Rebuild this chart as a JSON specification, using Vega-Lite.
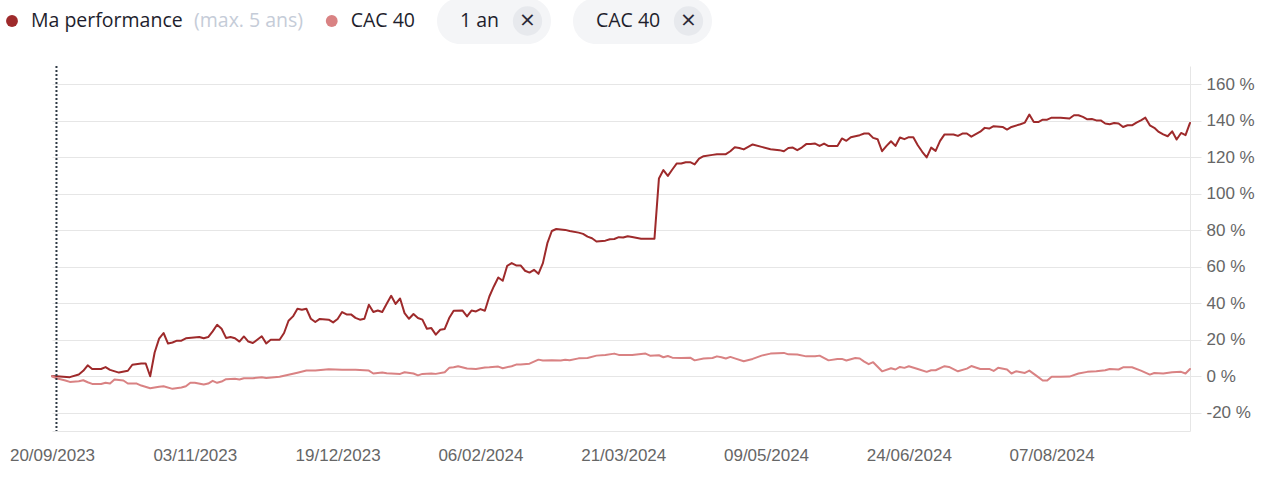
{
"$schema":"https://vega.github.io/schema/vega-lite/v6.json",
"width":1138,"height":365,
"autosize":{"type":"none"},
"padding":{"left":52,"top":66,"right":94,"bottom":46},
"background":"white",
"config":{"view":{"stroke":null},"legend":{"titleFontWeight":"normal"}},
"datasets":{
"repere":[{"seance":1,"libelle":"début de période"}],
"perf":[
{"seance":0,"serie":"Ma performance","perf":0},{"seance":1,"serie":"Ma performance","perf":0},{"seance":4,"serie":"Ma performance","perf":-0.5},{"seance":6,"serie":"Ma performance","perf":1},{"seance":7,"serie":"Ma performance","perf":3},{"seance":8,"serie":"Ma performance","perf":6},{"seance":9,"serie":"Ma performance","perf":4},{"seance":11,"serie":"Ma performance","perf":4},{"seance":12,"serie":"Ma performance","perf":5},{"seance":13,"serie":"Ma performance","perf":3.5},{"seance":15,"serie":"Ma performance","perf":2},{"seance":17,"serie":"Ma performance","perf":3},{"seance":18,"serie":"Ma performance","perf":6.3},{"seance":20,"serie":"Ma performance","perf":7},{"seance":21,"serie":"Ma performance","perf":7},{"seance":22,"serie":"Ma performance","perf":0},{"seance":23,"serie":"Ma performance","perf":13},{"seance":24,"serie":"Ma performance","perf":20.6},{"seance":25,"serie":"Ma performance","perf":23.7},{"seance":26,"serie":"Ma performance","perf":17.9},{"seance":27,"serie":"Ma performance","perf":18.5},{"seance":28,"serie":"Ma performance","perf":19.5},{"seance":29,"serie":"Ma performance","perf":19.5},{"seance":30,"serie":"Ma performance","perf":20.8},{"seance":33,"serie":"Ma performance","perf":21.5},{"seance":34,"serie":"Ma performance","perf":20.8},{"seance":35,"serie":"Ma performance","perf":21.5},{"seance":36,"serie":"Ma performance","perf":24.6},{"seance":37,"serie":"Ma performance","perf":28.2},{"seance":38,"serie":"Ma performance","perf":26},{"seance":39,"serie":"Ma performance","perf":21},{"seance":40,"serie":"Ma performance","perf":21.5},{"seance":41,"serie":"Ma performance","perf":20.8},{"seance":42,"serie":"Ma performance","perf":19},{"seance":43,"serie":"Ma performance","perf":21.8},{"seance":44,"serie":"Ma performance","perf":19},{"seance":45,"serie":"Ma performance","perf":18.2},{"seance":47,"serie":"Ma performance","perf":21.9},{"seance":48,"serie":"Ma performance","perf":18},{"seance":49,"serie":"Ma performance","perf":20},{"seance":51,"serie":"Ma performance","perf":20},{"seance":52,"serie":"Ma performance","perf":23.7},{"seance":53,"serie":"Ma performance","perf":30.4},{"seance":54,"serie":"Ma performance","perf":32.8},{"seance":55,"serie":"Ma performance","perf":37},{"seance":56,"serie":"Ma performance","perf":36.4},{"seance":57,"serie":"Ma performance","perf":37},{"seance":58,"serie":"Ma performance","perf":31.5},{"seance":59,"serie":"Ma performance","perf":29.7},{"seance":60,"serie":"Ma performance","perf":31.4},{"seance":62,"serie":"Ma performance","perf":31},{"seance":63,"serie":"Ma performance","perf":29.5},{"seance":64,"serie":"Ma performance","perf":31.4},{"seance":65,"serie":"Ma performance","perf":35.2},{"seance":66,"serie":"Ma performance","perf":33.9},{"seance":67,"serie":"Ma performance","perf":33.9},{"seance":68,"serie":"Ma performance","perf":32},{"seance":69,"serie":"Ma performance","perf":31},{"seance":70,"serie":"Ma performance","perf":31.5},{"seance":71,"serie":"Ma performance","perf":39.2},{"seance":72,"serie":"Ma performance","perf":35.2},{"seance":73,"serie":"Ma performance","perf":36},{"seance":74,"serie":"Ma performance","perf":35.2},{"seance":75,"serie":"Ma performance","perf":39.7},{"seance":76,"serie":"Ma performance","perf":44.1},{"seance":77,"serie":"Ma performance","perf":39.6},{"seance":78,"serie":"Ma performance","perf":42.6},{"seance":79,"serie":"Ma performance","perf":34.6},{"seance":80,"serie":"Ma performance","perf":31.5},{"seance":81,"serie":"Ma performance","perf":34.1},{"seance":82,"serie":"Ma performance","perf":31.9},{"seance":83,"serie":"Ma performance","perf":31},{"seance":84,"serie":"Ma performance","perf":26},{"seance":85,"serie":"Ma performance","perf":26.4},{"seance":86,"serie":"Ma performance","perf":22.8},{"seance":87,"serie":"Ma performance","perf":25.5},{"seance":88,"serie":"Ma performance","perf":25.9},{"seance":89,"serie":"Ma performance","perf":31.9},{"seance":90,"serie":"Ma performance","perf":35.9},{"seance":92,"serie":"Ma performance","perf":36},{"seance":93,"serie":"Ma performance","perf":32.8},{"seance":94,"serie":"Ma performance","perf":36},{"seance":95,"serie":"Ma performance","perf":35.5},{"seance":96,"serie":"Ma performance","perf":36.8},{"seance":97,"serie":"Ma performance","perf":35.9},{"seance":98,"serie":"Ma performance","perf":43.7},{"seance":99,"serie":"Ma performance","perf":49.2},{"seance":100,"serie":"Ma performance","perf":54.1},{"seance":101,"serie":"Ma performance","perf":52.3},{"seance":102,"serie":"Ma performance","perf":60.5},{"seance":103,"serie":"Ma performance","perf":62},{"seance":104,"serie":"Ma performance","perf":60.7},{"seance":105,"serie":"Ma performance","perf":60.7},{"seance":106,"serie":"Ma performance","perf":57.8},{"seance":107,"serie":"Ma performance","perf":56.8},{"seance":108,"serie":"Ma performance","perf":58.3},{"seance":109,"serie":"Ma performance","perf":56.1},{"seance":110,"serie":"Ma performance","perf":62},{"seance":111,"serie":"Ma performance","perf":72.9},{"seance":112,"serie":"Ma performance","perf":79.6},{"seance":113,"serie":"Ma performance","perf":80.7},{"seance":115,"serie":"Ma performance","perf":80.2},{"seance":116,"serie":"Ma performance","perf":79.6},{"seance":118,"serie":"Ma performance","perf":78.7},{"seance":119,"serie":"Ma performance","perf":78},{"seance":120,"serie":"Ma performance","perf":76.5},{"seance":121,"serie":"Ma performance","perf":75.6},{"seance":122,"serie":"Ma performance","perf":73.8},{"seance":124,"serie":"Ma performance","perf":74.3},{"seance":125,"serie":"Ma performance","perf":75.1},{"seance":126,"serie":"Ma performance","perf":75.2},{"seance":127,"serie":"Ma performance","perf":76.2},{"seance":128,"serie":"Ma performance","perf":76},{"seance":129,"serie":"Ma performance","perf":76.7},{"seance":130,"serie":"Ma performance","perf":76.3},{"seance":132,"serie":"Ma performance","perf":75.4},{"seance":133,"serie":"Ma performance","perf":75.4},{"seance":135,"serie":"Ma performance","perf":75.4},{"seance":136,"serie":"Ma performance","perf":108.4},{"seance":137,"serie":"Ma performance","perf":113},{"seance":138,"serie":"Ma performance","perf":109.8},{"seance":139,"serie":"Ma performance","perf":113.3},{"seance":140,"serie":"Ma performance","perf":116.6},{"seance":141,"serie":"Ma performance","perf":116.6},{"seance":142,"serie":"Ma performance","perf":117.3},{"seance":143,"serie":"Ma performance","perf":117.3},{"seance":144,"serie":"Ma performance","perf":116.1},{"seance":145,"serie":"Ma performance","perf":119.3},{"seance":146,"serie":"Ma performance","perf":120.6},{"seance":148,"serie":"Ma performance","perf":121.3},{"seance":149,"serie":"Ma performance","perf":121.7},{"seance":151,"serie":"Ma performance","perf":121.7},{"seance":152,"serie":"Ma performance","perf":123.3},{"seance":153,"serie":"Ma performance","perf":125.5},{"seance":154,"serie":"Ma performance","perf":125.1},{"seance":155,"serie":"Ma performance","perf":124.3},{"seance":157,"serie":"Ma performance","perf":127},{"seance":159,"serie":"Ma performance","perf":125.7},{"seance":161,"serie":"Ma performance","perf":124.4},{"seance":163,"serie":"Ma performance","perf":123.9},{"seance":164,"serie":"Ma performance","perf":123.3},{"seance":165,"serie":"Ma performance","perf":125.1},{"seance":166,"serie":"Ma performance","perf":125.3},{"seance":167,"serie":"Ma performance","perf":123.9},{"seance":168,"serie":"Ma performance","perf":125.3},{"seance":169,"serie":"Ma performance","perf":127.2},{"seance":170,"serie":"Ma performance","perf":127.2},{"seance":171,"serie":"Ma performance","perf":127.5},{"seance":172,"serie":"Ma performance","perf":126.2},{"seance":173,"serie":"Ma performance","perf":127.5},{"seance":174,"serie":"Ma performance","perf":126.1},{"seance":176,"serie":"Ma performance","perf":126.1},{"seance":177,"serie":"Ma performance","perf":130.3},{"seance":178,"serie":"Ma performance","perf":129},{"seance":179,"serie":"Ma performance","perf":131},{"seance":181,"serie":"Ma performance","perf":132.1},{"seance":182,"serie":"Ma performance","perf":133},{"seance":183,"serie":"Ma performance","perf":133},{"seance":184,"serie":"Ma performance","perf":130.6},{"seance":185,"serie":"Ma performance","perf":129.9},{"seance":186,"serie":"Ma performance","perf":123.3},{"seance":187,"serie":"Ma performance","perf":126.2},{"seance":188,"serie":"Ma performance","perf":128.8},{"seance":189,"serie":"Ma performance","perf":126.2},{"seance":190,"serie":"Ma performance","perf":130.8},{"seance":191,"serie":"Ma performance","perf":129.9},{"seance":192,"serie":"Ma performance","perf":131},{"seance":193,"serie":"Ma performance","perf":131},{"seance":194,"serie":"Ma performance","perf":126.6},{"seance":195,"serie":"Ma performance","perf":123},{"seance":196,"serie":"Ma performance","perf":119.9},{"seance":197,"serie":"Ma performance","perf":125.3},{"seance":198,"serie":"Ma performance","perf":123.5},{"seance":199,"serie":"Ma performance","perf":129},{"seance":200,"serie":"Ma performance","perf":132.5},{"seance":202,"serie":"Ma performance","perf":132.5},{"seance":203,"serie":"Ma performance","perf":131.7},{"seance":204,"serie":"Ma performance","perf":133},{"seance":205,"serie":"Ma performance","perf":133},{"seance":206,"serie":"Ma performance","perf":131.3},{"seance":208,"serie":"Ma performance","perf":134},{"seance":209,"serie":"Ma performance","perf":136.1},{"seance":210,"serie":"Ma performance","perf":135.7},{"seance":211,"serie":"Ma performance","perf":137},{"seance":213,"serie":"Ma performance","perf":136.6},{"seance":214,"serie":"Ma performance","perf":135.2},{"seance":215,"serie":"Ma performance","perf":136.6},{"seance":217,"serie":"Ma performance","perf":138.1},{"seance":218,"serie":"Ma performance","perf":139},{"seance":219,"serie":"Ma performance","perf":143.4},{"seance":220,"serie":"Ma performance","perf":139.3},{"seance":221,"serie":"Ma performance","perf":139.3},{"seance":222,"serie":"Ma performance","perf":140.6},{"seance":223,"serie":"Ma performance","perf":140.6},{"seance":224,"serie":"Ma performance","perf":141.7},{"seance":226,"serie":"Ma performance","perf":141.7},{"seance":228,"serie":"Ma performance","perf":141.2},{"seance":229,"serie":"Ma performance","perf":143},{"seance":230,"serie":"Ma performance","perf":143},{"seance":231,"serie":"Ma performance","perf":142.1},{"seance":232,"serie":"Ma performance","perf":140.8},{"seance":233,"serie":"Ma performance","perf":141},{"seance":234,"serie":"Ma performance","perf":140.2},{"seance":235,"serie":"Ma performance","perf":140.2},{"seance":236,"serie":"Ma performance","perf":138.5},{"seance":237,"serie":"Ma performance","perf":138.1},{"seance":238,"serie":"Ma performance","perf":138.8},{"seance":239,"serie":"Ma performance","perf":138.5},{"seance":240,"serie":"Ma performance","perf":136.6},{"seance":241,"serie":"Ma performance","perf":137.5},{"seance":242,"serie":"Ma performance","perf":137.5},{"seance":243,"serie":"Ma performance","perf":139},{"seance":244,"serie":"Ma performance","perf":140.2},{"seance":245,"serie":"Ma performance","perf":141.7},{"seance":246,"serie":"Ma performance","perf":137.5},{"seance":247,"serie":"Ma performance","perf":136.1},{"seance":248,"serie":"Ma performance","perf":133.9},{"seance":249,"serie":"Ma performance","perf":132.5},{"seance":250,"serie":"Ma performance","perf":131.5},{"seance":251,"serie":"Ma performance","perf":134.2},{"seance":252,"serie":"Ma performance","perf":129.7},{"seance":253,"serie":"Ma performance","perf":133.3},{"seance":254,"serie":"Ma performance","perf":132.1},{"seance":255,"serie":"Ma performance","perf":138.8},
{"seance":0,"serie":"CAC 40","perf":0},{"seance":1,"serie":"CAC 40","perf":-1.1},{"seance":3,"serie":"CAC 40","perf":-2.3},{"seance":4,"serie":"CAC 40","perf":-3.1},{"seance":6,"serie":"CAC 40","perf":-2.7},{"seance":7,"serie":"CAC 40","perf":-2.2},{"seance":8,"serie":"CAC 40","perf":-3.3},{"seance":9,"serie":"CAC 40","perf":-4.2},{"seance":11,"serie":"CAC 40","perf":-4.2},{"seance":12,"serie":"CAC 40","perf":-3.6},{"seance":13,"serie":"CAC 40","perf":-4},{"seance":14,"serie":"CAC 40","perf":-1.8},{"seance":16,"serie":"CAC 40","perf":-2.3},{"seance":17,"serie":"CAC 40","perf":-4},{"seance":19,"serie":"CAC 40","perf":-4},{"seance":20,"serie":"CAC 40","perf":-5.1},{"seance":22,"serie":"CAC 40","perf":-6.6},{"seance":24,"serie":"CAC 40","perf":-5.8},{"seance":25,"serie":"CAC 40","perf":-5.5},{"seance":27,"serie":"CAC 40","perf":-6.9},{"seance":29,"serie":"CAC 40","perf":-6.2},{"seance":30,"serie":"CAC 40","perf":-5.5},{"seance":31,"serie":"CAC 40","perf":-3.6},{"seance":32,"serie":"CAC 40","perf":-3.6},{"seance":34,"serie":"CAC 40","perf":-4.5},{"seance":35,"serie":"CAC 40","perf":-4},{"seance":36,"serie":"CAC 40","perf":-2.5},{"seance":37,"serie":"CAC 40","perf":-3.6},{"seance":38,"serie":"CAC 40","perf":-2.9},{"seance":39,"serie":"CAC 40","perf":-1.6},{"seance":41,"serie":"CAC 40","perf":-1.4},{"seance":42,"serie":"CAC 40","perf":-1.8},{"seance":43,"serie":"CAC 40","perf":-1.1},{"seance":45,"serie":"CAC 40","perf":-1.1},{"seance":47,"serie":"CAC 40","perf":-0.5},{"seance":48,"serie":"CAC 40","perf":-0.9},{"seance":51,"serie":"CAC 40","perf":-0.3},{"seance":53,"serie":"CAC 40","perf":0.8},{"seance":55,"serie":"CAC 40","perf":1.9},{"seance":57,"serie":"CAC 40","perf":3.1},{"seance":59,"serie":"CAC 40","perf":3.1},{"seance":62,"serie":"CAC 40","perf":3.8},{"seance":65,"serie":"CAC 40","perf":3.5},{"seance":68,"serie":"CAC 40","perf":3.5},{"seance":71,"serie":"CAC 40","perf":3.1},{"seance":72,"serie":"CAC 40","perf":1.5},{"seance":74,"serie":"CAC 40","perf":2},{"seance":75,"serie":"CAC 40","perf":1.6},{"seance":78,"serie":"CAC 40","perf":1.3},{"seance":79,"serie":"CAC 40","perf":2.2},{"seance":81,"serie":"CAC 40","perf":1.5},{"seance":82,"serie":"CAC 40","perf":0.5},{"seance":83,"serie":"CAC 40","perf":1.3},{"seance":85,"serie":"CAC 40","perf":1.5},{"seance":86,"serie":"CAC 40","perf":1.3},{"seance":88,"serie":"CAC 40","perf":2.2},{"seance":89,"serie":"CAC 40","perf":4.6},{"seance":90,"serie":"CAC 40","perf":4.9},{"seance":91,"serie":"CAC 40","perf":5.5},{"seance":93,"serie":"CAC 40","perf":4.2},{"seance":95,"serie":"CAC 40","perf":4},{"seance":97,"serie":"CAC 40","perf":4.8},{"seance":98,"serie":"CAC 40","perf":4.9},{"seance":100,"serie":"CAC 40","perf":5.3},{"seance":101,"serie":"CAC 40","perf":4.4},{"seance":103,"serie":"CAC 40","perf":5.5},{"seance":104,"serie":"CAC 40","perf":6.4},{"seance":105,"serie":"CAC 40","perf":6.4},{"seance":107,"serie":"CAC 40","perf":6.9},{"seance":109,"serie":"CAC 40","perf":9.1},{"seance":110,"serie":"CAC 40","perf":8.6},{"seance":112,"serie":"CAC 40","perf":8.7},{"seance":114,"serie":"CAC 40","perf":8.6},{"seance":115,"serie":"CAC 40","perf":9},{"seance":116,"serie":"CAC 40","perf":8.8},{"seance":118,"serie":"CAC 40","perf":9.8},{"seance":120,"serie":"CAC 40","perf":10},{"seance":122,"serie":"CAC 40","perf":11.3},{"seance":124,"serie":"CAC 40","perf":11.7},{"seance":126,"serie":"CAC 40","perf":12.4},{"seance":127,"serie":"CAC 40","perf":11.7},{"seance":130,"serie":"CAC 40","perf":11.7},{"seance":132,"serie":"CAC 40","perf":12.2},{"seance":133,"serie":"CAC 40","perf":12.4},{"seance":134,"serie":"CAC 40","perf":11.3},{"seance":136,"serie":"CAC 40","perf":11.5},{"seance":137,"serie":"CAC 40","perf":10.4},{"seance":138,"serie":"CAC 40","perf":11.1},{"seance":139,"serie":"CAC 40","perf":10.2},{"seance":141,"serie":"CAC 40","perf":10},{"seance":143,"serie":"CAC 40","perf":10.2},{"seance":144,"serie":"CAC 40","perf":8.7},{"seance":146,"serie":"CAC 40","perf":9.7},{"seance":148,"serie":"CAC 40","perf":10},{"seance":149,"serie":"CAC 40","perf":10.9},{"seance":150,"serie":"CAC 40","perf":10.4},{"seance":151,"serie":"CAC 40","perf":9.7},{"seance":152,"serie":"CAC 40","perf":10.6},{"seance":153,"serie":"CAC 40","perf":9.8},{"seance":155,"serie":"CAC 40","perf":8.2},{"seance":157,"serie":"CAC 40","perf":9.5},{"seance":159,"serie":"CAC 40","perf":11.3},{"seance":161,"serie":"CAC 40","perf":12.4},{"seance":164,"serie":"CAC 40","perf":12.8},{"seance":165,"serie":"CAC 40","perf":12},{"seance":167,"serie":"CAC 40","perf":11.9},{"seance":169,"serie":"CAC 40","perf":10.9},{"seance":171,"serie":"CAC 40","perf":10.9},{"seance":172,"serie":"CAC 40","perf":11.3},{"seance":174,"serie":"CAC 40","perf":8.7},{"seance":176,"serie":"CAC 40","perf":9.5},{"seance":177,"serie":"CAC 40","perf":9.5},{"seance":178,"serie":"CAC 40","perf":8.6},{"seance":180,"serie":"CAC 40","perf":10},{"seance":181,"serie":"CAC 40","perf":9.7},{"seance":182,"serie":"CAC 40","perf":8},{"seance":183,"serie":"CAC 40","perf":6.6},{"seance":184,"serie":"CAC 40","perf":7.7},{"seance":186,"serie":"CAC 40","perf":2.7},{"seance":188,"serie":"CAC 40","perf":4.4},{"seance":189,"serie":"CAC 40","perf":3.7},{"seance":190,"serie":"CAC 40","perf":5.1},{"seance":191,"serie":"CAC 40","perf":4.6},{"seance":192,"serie":"CAC 40","perf":5.5},{"seance":194,"serie":"CAC 40","perf":4},{"seance":196,"serie":"CAC 40","perf":2.4},{"seance":197,"serie":"CAC 40","perf":3.3},{"seance":198,"serie":"CAC 40","perf":3.3},{"seance":200,"serie":"CAC 40","perf":5.5},{"seance":201,"serie":"CAC 40","perf":5.1},{"seance":203,"serie":"CAC 40","perf":2.7},{"seance":205,"serie":"CAC 40","perf":4.2},{"seance":206,"serie":"CAC 40","perf":5.6},{"seance":208,"serie":"CAC 40","perf":4},{"seance":210,"serie":"CAC 40","perf":4},{"seance":211,"serie":"CAC 40","perf":2.9},{"seance":212,"serie":"CAC 40","perf":4.6},{"seance":214,"serie":"CAC 40","perf":3.7},{"seance":215,"serie":"CAC 40","perf":1.5},{"seance":216,"serie":"CAC 40","perf":2.7},{"seance":218,"serie":"CAC 40","perf":1.8},{"seance":219,"serie":"CAC 40","perf":3.1},{"seance":221,"serie":"CAC 40","perf":-0.5},{"seance":222,"serie":"CAC 40","perf":-2.3},{"seance":223,"serie":"CAC 40","perf":-2.3},{"seance":224,"serie":"CAC 40","perf":-0.3},{"seance":226,"serie":"CAC 40","perf":-0.3},{"seance":228,"serie":"CAC 40","perf":-0.2},{"seance":230,"serie":"CAC 40","perf":1.5},{"seance":232,"serie":"CAC 40","perf":2.4},{"seance":234,"serie":"CAC 40","perf":2.7},{"seance":236,"serie":"CAC 40","perf":3.3},{"seance":237,"serie":"CAC 40","perf":4},{"seance":239,"serie":"CAC 40","perf":3.7},{"seance":240,"serie":"CAC 40","perf":4.9},{"seance":242,"serie":"CAC 40","perf":4.9},{"seance":244,"serie":"CAC 40","perf":3.1},{"seance":246,"serie":"CAC 40","perf":0.9},{"seance":247,"serie":"CAC 40","perf":1.8},{"seance":249,"serie":"CAC 40","perf":1.5},{"seance":251,"serie":"CAC 40","perf":2.2},{"seance":253,"serie":"CAC 40","perf":2.4},{"seance":254,"serie":"CAC 40","perf":1.5},{"seance":255,"serie":"CAC 40","perf":4}
]},
"data":{"name":"perf"},
"encoding":{
 "x":{"field":"seance","type":"quantitative","scale":{"domain":[0,255],"nice":false,"zero":false},
  "axis":{"title":null,"values":[0,32,64,96,128,160,192,224],"labelExpr":"['20/09/2023','03/11/2023','19/12/2023','06/02/2024','21/03/2024','09/05/2024','24/06/2024','07/08/2024'][round(datum.value / 32)]","grid":false,"ticks":false,"domain":true,"domainColor":"#e6e6e6","domainWidth":1,"labelFont":"Liberation Sans","labelFontSize":17,"labelColor":"#666666","labelPadding":16,"labelFlush":false,"labelOverlap":false}}
},
"layer":[
{"mark":{"type":"line","strokeWidth":2,"strokeJoin":"round","strokeCap":"round"},
 "encoding":{
  "y":{"field":"perf","type":"quantitative","scale":{"domain":[-30,170],"nice":false,"zero":false},
   "axis":{"orient":"right","title":null,"values":[-20,0,20,40,60,80,100,120,140,160],"labelExpr":"datum.value + ' %'","grid":true,"gridColor":"#e6e6e6","gridWidth":1,"ticks":true,"tickColor":"#e6e6e6","tickSize":11,"domain":true,"domainColor":"#e6e6e6","labelFont":"Liberation Sans","labelFontSize":17,"labelColor":"#666666","labelPadding":5,"labelFlush":false}},
  "color":{"field":"serie","type":"nominal","scale":{"range":["#d98283","#9e2a2b"]},"legend":null}
 }},
{"transform":[{"filter":"false"}],
 "mark":{"type":"point","filled":true,"opacity":1},
 "encoding":{
  "fill":{"field":"serie","type":"nominal","scale":{"domain":["Ma performance"],"range":["#9e2a2b"]},
   "legend":{"orient":"none","legendX":-49.75,"legendY":-54.75,"title":null,"symbolType":"circle","symbolSize":140,"symbolStrokeWidth":0,"symbolOpacity":1,"labelFont":"Open Sans","labelFontSize":19.5,"labelColor":"#1e1e2d","labelOffset":9.25,"labelLimit":400,"padding":0}}
 }},
{"transform":[{"filter":"false"}],
 "mark":{"type":"point","filled":true,"opacity":1,"color":"#d98283"},
 "encoding":{
  "stroke":{"field":"serie","type":"nominal","scale":{"domain":["CAC 40"],"range":["#d98283"]},
   "legend":{"orient":"none","legendX":142,"legendY":-54.75,"title":"(max. 5 ans)","titleOrient":"left","titleAnchor":"middle","titleBaseline":"middle","titleFont":"Open Sans","titleFontSize":19.5,"titleFontWeight":"normal","titleColor":"#c5ccd8","titlePadding":18,"titleLimit":400,"symbolType":"circle","symbolSize":140,"symbolStrokeWidth":0,"symbolFillColor":"#d98283","symbolOpacity":1,"labelFont":"Open Sans","labelFontSize":19.5,"labelColor":"#1e1e2d","labelOffset":9.25,"labelLimit":400,"padding":0}}
 }},
{"transform":[{"filter":"false"}],
 "mark":{"type":"point","filled":true,"opacity":1,"color":"#e7e9ed"},
 "encoding":{
  "shape":{"field":"serie","type":"nominal","scale":{"domain":["fermer 1 an"],"range":["circle"]},
   "legend":{"orient":"none","legendX":385,"legendY":-68,"title":"\u28001 an","titleOrient":"left","titleAnchor":"middle","titleBaseline":"middle","titleFont":"Open Sans","titleFontSize":19.5,"titleFontWeight":"normal","titleColor":"#1e1e2d","titlePadding":12.5,"fillColor":"#f4f5f7","cornerRadius":23,"padding":8,"symbolType":"circle","symbolSize":860,"symbolFillColor":"#e7e9ed","symbolStrokeWidth":0,"symbolOpacity":1,"labelExpr":"'×'","labelFont":"Open Sans","labelFontSize":26,"labelColor":"#2a2a35","labelAlign":"center","labelOffset":-15}}
 }},
{"transform":[{"filter":"false"}],
 "mark":{"type":"point","filled":true,"color":"#e7e9ed"},
 "encoding":{
  "opacity":{"field":"serie","type":"ordinal","scale":{"domain":["fermer CAC 40"],"range":[1,1]},
   "legend":{"orient":"none","legendX":521,"legendY":-68,"title":"\u2800CAC 40","titleOrient":"left","titleAnchor":"middle","titleBaseline":"middle","titleFont":"Open Sans","titleFontSize":19.5,"titleFontWeight":"normal","titleColor":"#1e1e2d","titlePadding":12.5,"fillColor":"#f4f5f7","cornerRadius":23,"padding":8,"symbolType":"circle","symbolSize":860,"symbolFillColor":"#e7e9ed","symbolStrokeWidth":0,"labelExpr":"'×'","labelFont":"Open Sans","labelFontSize":26,"labelColor":"#2a2a35","labelAlign":"center","labelOffset":-15}}
 }},
{"data":{"name":"repere"},
 "mark":{"type":"rule","color":"#2f3a45","strokeDash":[2,2],"strokeWidth":2},
 "encoding":{}}
]
}
